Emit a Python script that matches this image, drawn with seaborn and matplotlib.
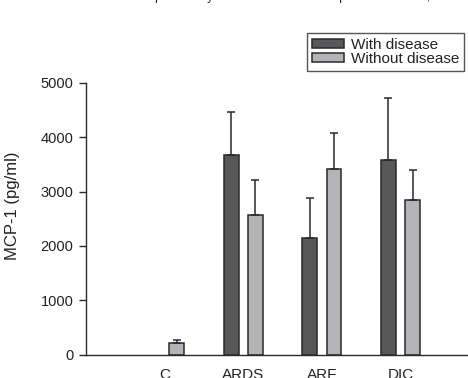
import numpy as np
import pandas as pd
import matplotlib
matplotlib.use("Agg")
import matplotlib.pyplot as plt
import seaborn as sns

# values (pg/ml)
groups = ["C", "ARDS", "ARF", "DIC"]
with_disease = [np.nan, 3680, 2140, 3580]
with_disease_err = [0, 790, 740, 1140]
without_disease = [210, 2570, 3420, 2840]
without_disease_err = [60, 640, 660, 550]
series = ["With disease", "Without disease"]
colors = ["#58585a", "#b3b4b8"]

df = pd.DataFrame({
    "group": groups * 2,
    "status": [series[0]] * 4 + [series[1]] * 4,
    "mcp1": with_disease + without_disease,
})

sns.set_style("white")
plt.rcParams["font.family"] = ["Liberation Sans", "DejaVu Sans"]

fig = plt.figure(figsize=(4.68, 3.78), dpi=100)
ax = fig.add_axes([0.184, 0.0616, 0.816, 0.7196])

sns.barplot(data=df, x="group", y="mcp1", hue="status", order=groups,
            hue_order=series, palette=colors, width=0.62, gap=0.39,
            errorbar=None, edgecolor="#2a2a2a", linewidth=1.1, saturation=1,
            ax=ax)

# upper error bars only, matched to bars by their group position
errs = [with_disease_err, without_disease_err]
for cont, err in zip(ax.containers, errs):
    for bar in cont:
        h = bar.get_height()
        if np.isnan(h) or h == 0:
            continue
        xc = bar.get_x() + bar.get_width() / 2
        e = err[int(round(xc))]
        ax.errorbar(xc, h, yerr=[[0], [e]], color="#2a2a2a", lw=1.1,
                    capsize=3, capthick=1.1, fmt="none", zorder=1)

ax.set_xlim(-1.0, 3.86)
ax.set_ylim(0, 5000)
ax.set_yticks([0, 1000, 2000, 3000, 4000, 5000])
ax.set_xlabel("")
ax.set_ylabel("MCP-1 (pg/ml)", fontsize=12, color="#222222")
ax.yaxis.set_label_coords(-0.173, 0.547)
ax.tick_params(axis="y", left=True, length=5, width=1, color="#2a2a2a",
               labelsize=10.5, pad=4, labelcolor="#222222")
ax.tick_params(axis="x", bottom=False, labelsize=11, pad=6,
               labelcolor="#222222")
sns.despine(ax=ax, top=True, right=True)
for s in ["left", "bottom"]:
    ax.spines[s].set_color("#2a2a2a")
    ax.spines[s].set_linewidth(1.0)

leg = ax.legend(loc="upper right", bbox_to_anchor=(0.991, 0.9127),
                bbox_transform=fig.transFigure, frameon=True, fancybox=False,
                fontsize=11, handlelength=2.1, handleheight=0.52,
                handletextpad=0.45, labelspacing=0.05, borderpad=0.3,
                borderaxespad=0)
leg.get_frame().set_edgecolor("#2a2a2a")
leg.get_frame().set_linewidth(1.0)
for t in leg.get_texts():
    t.set_color("#222222")

# title line sits above the cropped top edge, only descenders visible
fig.text(0.116, 1.0, "Plasma MCP-1 in pulmonary and other remote complications in ALI,",
         fontsize=9, va="baseline", ha="left", color="#222222")

fig.savefig("out.png", dpi=100)
